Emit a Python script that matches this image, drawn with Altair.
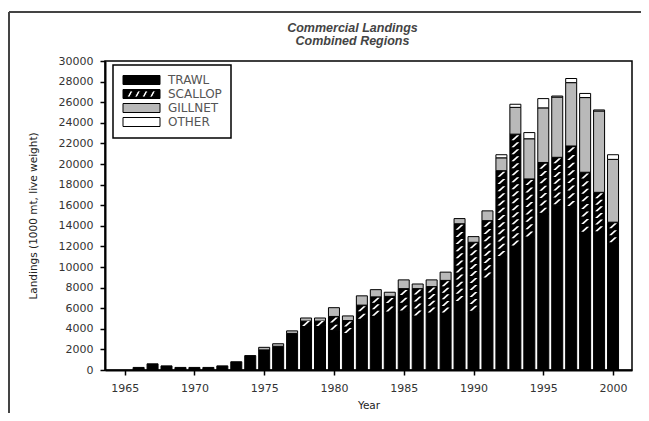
import altair as alt
import pandas as pd

# ---------------- data ----------------
years = list(range(1966, 2001))
trawl = [250, 600, 400, 250, 250, 250, 400, 800, 1400, 1950,
         2300, 3550, 4300, 4300, 3800, 3500, 4850, 5200, 5500, 5650,
         5200, 5500, 5500, 6600, 5650, 8870, 10970, 12000, 12850, 15150,
         16000, 15800, 13300, 13400, 12300]
scallop = [0, 0, 0, 0, 0, 0, 0, 0, 0, 0,
           0, 0, 450, 450, 1400, 1300, 1450, 1900, 1650, 2250,
           2700, 2600, 3200, 7600, 6750, 5630, 8380, 10900, 5700, 5000,
           4650, 5950, 5900, 3850, 2050]
gillnet = [0, 0, 0, 0, 0, 0, 0, 0, 0, 250,
           250, 250, 300, 300, 850, 450, 900, 700, 400, 850,
           450, 650, 800, 500, 550, 950, 1250, 2600, 3900, 5300,
           5850, 6150, 7250, 7900, 6100]
other = [0, 0, 0, 0, 0, 0, 0, 0, 0, 0,
         0, 0, 0, 0, 0, 0, 0, 0, 0, 0,
         0, 0, 0, 0, 0, 0, 300, 300, 600, 900,
         100, 400, 400, 100, 450]
gears = ["TRAWL", "SCALLOP", "GILLNET", "OTHER"]
gear_fills = ["#000000", "#000000", "#b9b9b9", "#ffffff"]
y_ticks = list(range(0, 30001, 2000))
x_ticks = list(range(1965, 2001, 5))
title_lines = ["Commercial Landings", "Combined Regions"]
y_title = "Landings (1000 mt, live weight)"
x_title = "Year"

# ---------------- tables built from the lists ----------------
rows = []
for i, yr in enumerate(years):
    for k, (g, vals) in enumerate(zip(gears, [trawl, scallop, gillnet, other])):
        rows.append({"year": yr, "gear": g, "k": k, "value": vals[i]})
df = pd.DataFrame(rows)

# white diagonal hatch strokes inside the SCALLOP segments
hatch_rows = []
step = 700
for i, yr in enumerate(years):
    s = scallop[i]
    if s >= 300:
        n = max(1, round(s / step))
        sp = s / n
        for j in range(n):
            hatch_rows.append({"year": yr, "h": trawl[i] + sp * (j + 0.5)})
hdf = pd.DataFrame(hatch_rows)

FONT = "DejaVu Sans"
# legend symbols: size 100 -> path unit = 5 px; 37 x 9 px rectangles
RECT = "M-1,-0.9H6.4V0.9H-1Z"
holes = ""
for x0 in [-0.2, 1.3, 2.8, 4.3]:
    holes += (f"M{x0:.2f},0.62L{x0+0.55:.2f},0.62L{x0+1.2:.2f},-0.62"
              f"L{x0+0.65:.2f},-0.62Z")
SCALLOP_SYM = RECT + holes
shape_paths = [RECT, SCALLOP_SYM, RECT, RECT]
HATCH = "M-0.8,0.5L-0.3,0.5L0.8,-0.5L0.3,-0.5Z"

x_scale = alt.Scale(domain=[1963.95, 2001.0], nice=False, zero=False)
y_scale = alt.Scale(domain=[0, 30000], nice=False)
fill_scale = alt.Scale(domain=gears, range=gear_fills)

axis_common = dict(labelFont=FONT, labelFontSize=11, labelColor="#333",
                   titleFont=FONT, titleFontSize=10.5, titleFontWeight="normal",
                   titleColor="#222", domainColor="black", domainWidth=2,
                   tickColor="black", tickWidth=1.5, tickSize=5, grid=False,
                   labelOverlap=False)
x_axis = alt.Axis(values=x_ticks, format="d", title=x_title,
                  labelPadding=7, titlePadding=7, **axis_common)
y_axis = alt.Axis(values=y_ticks, format="d", title=y_title,
                  labelPadding=7, titlePadding=20, **axis_common)

bars = alt.Chart(df).transform_filter("datum.value > 0").mark_bar(
    width=11, stroke="black", strokeWidth=1
).encode(
    x=alt.X("year:Q", scale=x_scale, axis=x_axis),
    y=alt.Y("value:Q", stack="zero", scale=y_scale, axis=y_axis),
    fill=alt.Fill("gear:N", scale=fill_scale, legend=None),
    order=alt.Order("k:Q", sort="ascending"),
)

hatch = alt.Chart(hdf).mark_point(
    filled=True, color="white", opacity=1, size=100, shape=HATCH, strokeWidth=0
).encode(
    x=alt.X("year:Q", scale=x_scale, axis=x_axis),
    y=alt.Y("h:Q", scale=y_scale, axis=y_axis),
)

leg = dict(title=None, orient="none", legendX=8, legendY=4, padding=9,
           strokeColor="black", fillColor="white",
           labelFont=FONT, labelFontSize=12, labelColor="#555", labelOffset=34,
           labelExpr="datum.label + '\u00a0\u00a0\u00a0\u00a0'",
           rowPadding=0, symbolSize=100, symbolStrokeColor="black",
           symbolStrokeWidth=1)

legend_layer = alt.Chart(df).transform_filter("datum.value < 0").mark_point(
    filled=True, strokeWidth=1, opacity=1
).encode(
    x=alt.X("year:Q", scale=x_scale, axis=x_axis),
    y=alt.Y("value:Q", scale=y_scale, axis=y_axis),
    fill=alt.Fill("gear:N", scale=fill_scale, legend=alt.Legend(**leg)),
    stroke=alt.Stroke("gear:N", scale=alt.Scale(domain=gears, range=["#000000"] * 4),
                      legend=alt.Legend(**leg)),
    shape=alt.Shape("gear:N", scale=alt.Scale(domain=gears, range=shape_paths),
                    legend=alt.Legend(**leg)),
)

frame_data = alt.Data(values=[{"a": 0}])
top_rule = alt.Chart(frame_data).mark_rule(color="#444", strokeWidth=2).encode(
    x=alt.value(-96), x2=alt.value(536), y=alt.value(-49))
left_rule = alt.Chart(frame_data).mark_rule(color="#444", strokeWidth=2).encode(
    x=alt.value(-96), y=alt.value(-49), y2=alt.value(352))

chart = alt.layer(bars, hatch, legend_layer, top_rule, left_rule).resolve_legend(
    fill="independent", shape="independent", stroke="independent"
).properties(
    width=527, height=309,
    autosize=alt.AutoSizeParams(type="none"),
    padding={"left": 97, "top": 53, "right": 9, "bottom": 43},
    title=alt.TitleParams(text=title_lines, font="Liberation Sans", fontSize=12.5,
                          fontStyle="italic", fontWeight="bold", color="#444",
                          anchor="middle", dx=-16, offset=-37, lineHeight=13.7),
).configure_view(stroke="black", strokeWidth=1.5).configure_legend(strokeWidth=1.5)

chart.save("out.html", embed_options={"renderer": "svg", "actions": False})
